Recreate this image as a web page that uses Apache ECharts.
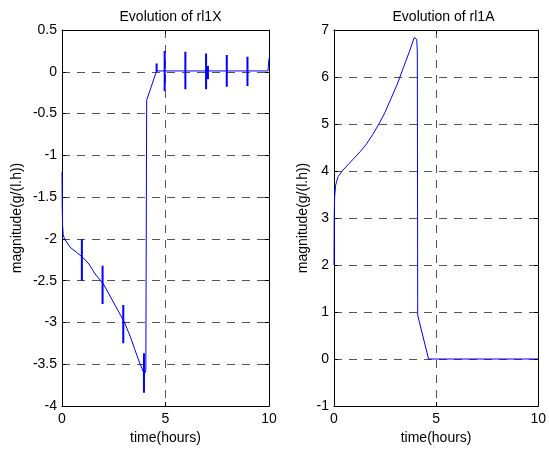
<!DOCTYPE html>
<html>
<head>
<meta charset="utf-8">
<script src="https://cdn.jsdelivr.net/npm/echarts@6/dist/echarts.min.js"></script>
<style>
  html, body { margin: 0; padding: 0; background: #fff; }
  #main { width: 549px; height: 450px; }
</style>
</head>
<body>
<div id="main"></div>
<script>
// left panel: rI1X
const titles = ['Evolution of rl1X', 'Evolution of rl1A'];
const xTicks = [0, 5, 10];

const rl1xTime = [0, 0.01, 0.03, 0.06, 0.12, 0.39, 0.7, 1.0, 1.3, 1.6, 2.0, 2.4, 2.8, 3.0, 3.3, 3.5, 3.7, 3.88, 3.97, 4.05, 4.09, 4.57, 5.0, 6.0, 7.0, 8.0, 9.0, 9.95, 10.0];
const rl1xValue = [-1.2, -1.6, -1.85, -1.95, -2.0, -2.1, -2.16, -2.22, -2.3, -2.42, -2.54, -2.72, -2.9, -2.99, -3.17, -3.31, -3.45, -3.56, -3.62, -3.58, -0.34, 0.01, 0.01, 0.01, 0.01, 0.01, 0.01, 0.01, 0.16];

// short vertical bursts on rI1X
const burstTime = [0.96, 1.96, 2.96, 3.96, 4.57, 4.96, 5.96, 6.96, 7.05, 7.96, 8.96];
const burstTop = [-2.0, -2.32, -2.79, -3.37, 0.1, 0.25, 0.24, 0.22, 0.07, 0.2, 0.18];
const burstBottom = [-2.5, -2.78, -3.25, -3.84, 0.0, -0.23, -0.21, -0.21, -0.09, -0.18, -0.17];

// right panel: rI1A
const rl1aTime = [0, 0.01, 0.03, 0.08, 0.2, 0.4, 0.7, 1.0, 1.3, 1.6, 1.9, 2.2, 2.5, 2.8, 3.1, 3.4, 3.7, 3.93, 3.98, 4.05, 4.08, 4.1, 4.63, 10.0];
const rl1aValue = [2.0, 3.0, 3.45, 3.7, 3.88, 4.0, 4.14, 4.28, 4.42, 4.58, 4.78, 5.0, 5.25, 5.55, 5.85, 6.2, 6.55, 6.84, 6.87, 6.8, 6.55, 0.93, 0.0, 0.0];

const font = 'Liberation Sans, Arial, sans-serif';
const dash = { color: '#555', width: 1, type: [8, 7] };

const pairs = (xs, ys) => xs.map((x, i) => [x, ys[i]]);
const bursts = [];
burstTime.forEach((t, i) => {
  bursts.push([t, burstTop[i]], [t, burstBottom[i]], [t, '-']);
});

const grids = [
  { left: 62, top: 30, width: 207, height: 380 },
  { left: 334, top: 30, width: 209, height: 380 }
];

const xAxisFor = (g, pos) => ({
  type: 'value', gridIndex: g, position: pos, min: 0, max: 10, interval: 5,
  axisLine: { show: true, onZero: false, lineStyle: { color: '#000', width: 1 } },
  axisTick: { show: true, inside: true, length: 4, lineStyle: { color: '#000' } },
  axisLabel: { show: pos === 'bottom', color: '#000', fontSize: 14, fontFamily: font, margin: 6 },
  splitLine: { show: pos === 'bottom', lineStyle: dash },
  name: pos === 'bottom' ? 'time(hours)' : '',
  nameLocation: 'middle', nameGap: 25,
  nameTextStyle: { color: '#000', fontSize: 14, fontFamily: font }
});

const yAxisFor = (g, pos, min, max, interval, gap) => ({
  type: 'value', gridIndex: g, position: pos, min: min, max: max, interval: interval,
  axisLine: { show: true, onZero: false, lineStyle: { color: '#000', width: 1 } },
  axisTick: { show: true, inside: true, length: 4, lineStyle: { color: '#000' } },
  axisLabel: { show: pos === 'left', color: '#000', fontSize: 14, fontFamily: font, margin: 5 },
  splitLine: { show: pos === 'left', lineStyle: dash },
  name: pos === 'left' ? 'magnitude(g/(l.h))' : '',
  nameLocation: 'middle', nameGap: gap,
  nameTextStyle: { color: '#000', fontSize: 14, fontFamily: font }
});

const option = {
  animation: false,
  backgroundColor: '#fff',
  title: titles.map((t, i) => ({
    text: t,
    left: grids[i].left + grids[i].width / 2,
    textAlign: 'center',
    top: 5,
    textStyle: { color: '#000', fontSize: 14, fontWeight: 'normal', fontFamily: font }
  })),
  grid: grids,
  xAxis: [xAxisFor(0, 'bottom'), xAxisFor(0, 'top'), xAxisFor(1, 'bottom'), xAxisFor(1, 'top')],
  yAxis: [
    yAxisFor(0, 'left', -4, 0.5, 0.5, 38), yAxisFor(0, 'right', -4, 0.5, 0.5, 0),
    yAxisFor(1, 'left', -1, 7, 1, 24), yAxisFor(1, 'right', -1, 7, 1, 0)
  ],
  series: [
    {
      type: 'line', xAxisIndex: 0, yAxisIndex: 0, data: pairs(rl1xTime, rl1xValue),
      showSymbol: false, lineStyle: { color: '#0000ff', width: 1 }
    },
    {
      type: 'line', xAxisIndex: 0, yAxisIndex: 0, data: bursts, connectNulls: false,
      showSymbol: false, lineStyle: { color: '#0000ff', width: 2 }
    },
    {
      type: 'line', xAxisIndex: 2, yAxisIndex: 2, data: pairs(rl1aTime, rl1aValue),
      showSymbol: false, lineStyle: { color: '#0000ff', width: 1 }
    }
  ]
};

const chart = echarts.init(document.getElementById('main'), null, { renderer: 'canvas' });
chart.setOption(option);
</script>
</body>
</html>
